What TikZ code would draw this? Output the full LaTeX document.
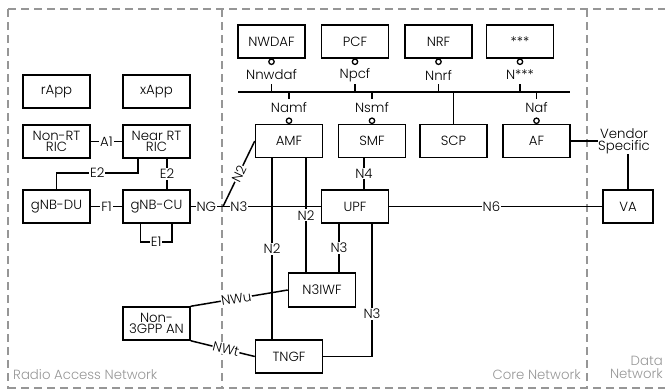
\documentclass[tikz,border=0pt]{standalone}
\usepackage{fontspec}
\setmainfont{Poppins}[UprightFont=* Light]
\usetikzlibrary{calc}
\definecolor{regiongray}{RGB}{150,150,150}
\tikzset{
  txt/.style={font=\fontsize{13.3}{15}\selectfont},
  box/.style={draw, line width=1.5pt, fill=white, minimum width=67pt, minimum height=33pt, inner sep=1pt, align=center, txt},
  lbl/.style={fill=white, inner sep=1pt, txt},
  conn/.style={line width=1.5pt},
  lolli/.style={circle, draw, line width=1.3pt, minimum size=5.4pt, inner sep=0pt, fill=white},
  region/.style={draw=regiongray, line width=1.6pt, dash pattern=on 8pt off 5pt},
  regionlbl/.style={text=regiongray, inner sep=0pt, txt},
}
\begin{document}
\begin{tikzpicture}[x=1pt,y=-1pt]
\useasboundingbox (0,0) rectangle (665,389);
% region borders
\draw[region] (8,9) -- (665,9);
\draw[region] (8,9) -- (8,389);
\draw[region] (8,388) -- (665,388);
\draw[region] (222,9) -- (222,389);
\draw[region] (587,9) -- (587,389);
\node[regionlbl, anchor=west] (ranl) at (13,375) {Radio Access Network};
\node[regionlbl, anchor=east] (cnl) at (581,375) {Core Network};
\node[regionlbl, anchor=east, align=right] (dnl) at (663,367.5) {Data\\[-2pt]Network};

% RAN boxes
\node[box] (rapp) at (56.5,91.5) {rApp};
\node[box] (xapp) at (156.5,91.5) {xApp};
\node[box] (nonrt) at (56.5,141.5) {Non-RT\\[-4pt]RIC};
\node[box] (nearrt) at (156.5,141.5) {Near RT\\[-4pt]RIC};
\node[box] (du) at (56.5,206.5) {gNB-DU};
\node[box] (cu) at (156.5,206.5) {gNB-CU};
\node[box, inner sep=0pt] (non3gpp) at (156.5,323.5) {Non-\\[-4pt]3GPP AN};

% Core top boxes
\node[box] (nwdaf) at (271.5,41.5) {NWDAF};
\node[box] (pcf) at (355,41.5) {PCF};
\node[box] (nrf) at (438.5,41.5) {NRF};
\node[box] (star) at (520,41.5) {***};
% Core lower boxes
\node[box] (amf) at (289,141) {AMF};
\node[box] (smf) at (372,141) {SMF};
\node[box] (scp) at (453.5,141) {SCP};
\node[box] (af) at (536.5,141) {AF};
\node[box] (upf) at (355,206.5) {UPF};
\node[box, minimum height=34pt] (n3iwf) at (322,290) {N3IWF};
\node[box] (tngf) at (289,356.5) {TNGF};
\node[box, minimum width=50pt] (va) at (628,206.5) {VA};

% service bus
\coordinate (busl) at (238,92);
\coordinate (busr) at (570,92);
\draw[conn] (busl) -- (busr);

% top lollipops
\foreach \b/\t in {nwdaf/Nnwdaf, pcf/Npcf, nrf/Nnrf, star/N***} {
  \node[lolli] (c\b) at ($(\b.south)+(0,3)$) {};
  \node[lbl] (l\b) at (\b.south |- 0,75) {\t};
  \draw[conn] (\b.south |- 0,84) -- (\b.south |- busl);
}
% bottom lollipops
\foreach \b/\t in {amf/Namf, smf/Nsmf, af/Naf} {
  \node[lolli] (c\b) at ($(\b.north)+(0,-3)$) {};
  \node[lbl] (l\b) at (\b.north |- 0,108) {\t};
  \draw[conn] (\b.north |- busl) -- (\b.north |- 0,99);
}
\draw[conn] (scp.north |- busl) -- (scp.north);

% RAN connectors
\draw[conn] (nonrt.east) -- node[lbl]{A1} (nearrt.west);
\coordinate (e2a) at ($(nearrt.south)+(-18.5,0)$);
\draw[conn] (e2a) -- (e2a |- 0,173) -- node[lbl]{E2} (du.north |- 0,173) -- (du.north);
\draw[conn] ($(nearrt.south)+(10.5,0)$) -- node[lbl]{E2} ($(cu.north)+(10.5,0)$);
\draw[conn] (du.east) -- node[lbl]{F1} (cu.west);
\coordinate (e1a) at ($(cu.south)+(-16,0)$);
\coordinate (e1b) at ($(cu.south)+(15.5,0)$);
\draw[conn] (e1a) -- (e1a |- 0,242) -- node[lbl, inner sep=0.5pt]{E1} (e1b |- 0,242) -- (e1b);

% NG / N3 and N2
\coordinate (ngj) at (223,206.5);
\draw[conn] ($(amf.south)+(-17,0)$) -- node[lbl]{N2} ($(tngf.north)+(-17,0)$);
\draw[conn] ($(amf.south)+(17,0)$) -- node[lbl]{N2} ($(n3iwf.north)+(-16,0)$);
\draw[conn] (cu.east) -- node[lbl, pos=0.12, inner sep=0.5pt]{NG} node[lbl, pos=0.37, inner sep=0.5pt]{N3} (upf.west);
\draw[conn] (ngj) -- node[lbl, sloped, inner sep=0.5pt]{N2} (amf.west);

% UPF connectors
\draw[conn] ($(smf.south)+(-8,0)$) -- node[lbl]{N4} ($(upf.north)+(9,0)$);
\draw[conn] ($(upf.south)+(-16,0)$) -- node[lbl]{N3} ($(n3iwf.north)+(17,0)$);
\draw[conn] ($(upf.south)+(17,0)$) |- node[lbl, pos=0.34]{N3} (tngf.east);
\draw[conn] (upf.east) -- node[lbl, pos=0.48]{N6} (va.west);

% Non-3GPP
\draw[conn] (non3gpp.north east) -- node[lbl, sloped, pos=0.47, inner sep=0.5pt]{NWu} (n3iwf.west);
\draw[conn] (non3gpp.south east) -- node[lbl, sloped, pos=0.55, inner sep=0.5pt]{NWt} (tngf.west);

% Vendor specific
\node[lbl, align=center, inner sep=0pt] (vs) at (624,141) {Vendor\\[-3pt]Specific};
\draw[conn] (af.east) -- (vs.west);
\draw[conn] (vs.south -| va.north) -- (va.north);
\end{tikzpicture}
\end{document}
